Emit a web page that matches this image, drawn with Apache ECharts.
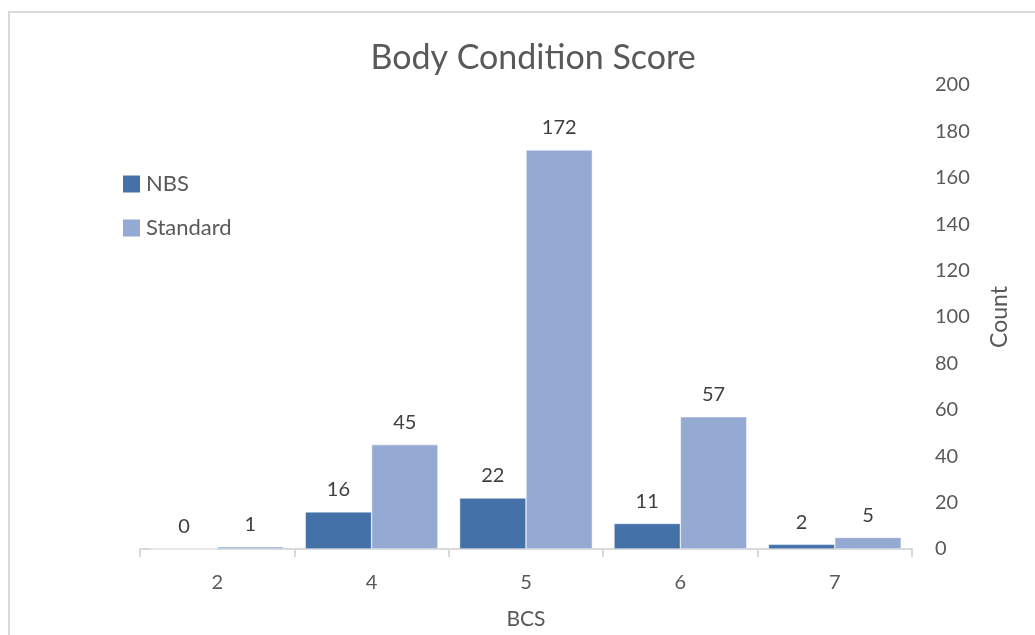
<!DOCTYPE html>
<html>
<head>
<meta charset="utf-8">
<script src="https://cdn.jsdelivr.net/npm/echarts@6/dist/echarts.min.js"></script>
<style>
  html, body { margin: 0; padding: 0; background: #fff; overflow: hidden; width: 1035px; height: 635px; }
  #frame {
    position: absolute; left: 8px; top: 11px; width: 1040px; height: 640px;
    border-left: 2px solid #d9d9d9; border-top: 2px solid #d9d9d9;
  }
  #chart { position: absolute; left: 0; top: 0; width: 1035px; height: 635px; }
</style>
</head>
<body>
<div id="frame"></div>
<div id="chart"></div>
<script>
  // data
  var categories = ["2", "4", "5", "6", "7"];
  var nbsValues = [0, 16, 22, 11, 2];
  var standardValues = [1, 45, 172, 57, 5];

  var textColor = "#595959";
  var fontFamily = "Lato, 'Open Sans', sans-serif";

  var myChart = echarts.init(document.getElementById("chart"));

  var barLabel = {
    show: true,
    position: "top",
    distance: 12,
    color: "#404040",
    fontSize: 20,
    fontFamily: fontFamily
  };

  var option = {
    backgroundColor: "transparent",
    animation: false,
    title: {
      text: "Body Condition Score",
      left: 528,
      textAlign: "center",
      top: 36,
      textStyle: {
        color: textColor,
        fontSize: 34,
        fontWeight: "normal",
        fontFamily: fontFamily
      }
    },
    legend: {
      orient: "vertical",
      left: 116,
      top: 168,
      itemWidth: 19,
      itemHeight: 19,
      itemGap: 22,
      icon: "path://M0,0H10V10H0Z",
      textStyle: { color: textColor, fontSize: 22, fontFamily: fontFamily, padding: [0, 0, 0, 0] },
      data: ["NBS", "Standard"]
    },
    grid: { left: 140, right: 123, top: 85, bottom: 86, outerBoundsMode: "none" },
    xAxis: {
      type: "category",
      data: categories,
      name: "BCS",
      nameLocation: "middle",
      nameGap: 60,
      nameTextStyle: { color: textColor, fontSize: 21, fontFamily: fontFamily },
      axisLine: { lineStyle: { color: "#d9d9d9", width: 2 } },
      axisTick: { show: true, length: 8, lineStyle: { color: "#d9d9d9", width: 2 } },
      axisLabel: { color: textColor, fontSize: 20, margin: 24, fontFamily: fontFamily }
    },
    yAxis: {
      type: "value",
      position: "right",
      min: 0,
      max: 200,
      interval: 20,
      name: "Count",
      nameLocation: "middle",
      nameRotate: 90,
      nameGap: 76,
      nameTextStyle: { color: textColor, fontSize: 23, fontFamily: fontFamily },
      axisLine: { show: false },
      axisTick: { show: false },
      splitLine: { show: false },
      axisLabel: { color: textColor, fontSize: 20, margin: 23, fontFamily: fontFamily }
    },
    series: [
      {
        name: "NBS",
        type: "bar",
        data: nbsValues,
        barGap: "0%",
        barCategoryGap: "14%",
        itemStyle: { color: "#4472A8", borderColor: "#ffffff", borderWidth: 0.5 },
        label: barLabel
      },
      {
        name: "Standard",
        type: "bar",
        data: standardValues,
        barGap: "0%",
        barCategoryGap: "14%",
        itemStyle: { color: "#95AAD2", borderColor: "#ffffff", borderWidth: 0.5 },
        label: barLabel
      }
    ]
  };

  myChart.setOption(option);
</script>
</body>
</html>
